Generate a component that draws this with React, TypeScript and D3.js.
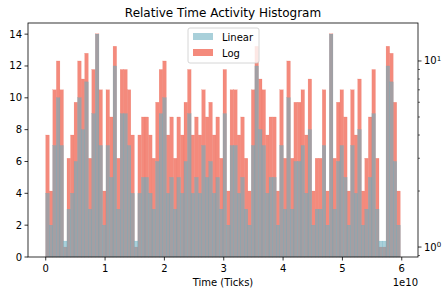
import React from 'react';
import * as d3 from 'd3';

// histogram counts per bin (100 bins)
const counts = [
  4, 2, 7, 10, 7, 1, 3, 4, 6, 10, 8, 11, 3, 9, 14, 7, 2, 7, 5, 12,
  3, 9, 9, 7, 4, 1, 4, 5, 5, 4, 3, 6, 9, 10, 4, 5, 3, 5, 4, 6,
  9, 4, 5, 4, 7, 5, 6, 4, 5, 3, 9, 2, 7, 7, 4, 5, 3, 2, 7, 12,
  8, 7, 4, 5, 5, 2, 7, 3, 10, 3, 6, 6, 7, 4, 8, 2, 3, 3, 7, 2,
  14, 3, 6, 7, 5, 2, 7, 4, 8, 2, 3, 5, 9, 3, 1, 1, 12, 11, 6, 2,
];
const timeMin = 0;
const timeMax = 5.975e10;
const xTicks = [0, 1, 2, 3, 4, 5, 6];
const yTicks = [0, 2, 4, 6, 8, 10, 12, 14];
const logMajor = [1, 10];
const logMinor = [0.9, 2, 3, 4, 5, 6, 7, 8, 9];
const seriesNames = ['Linear', 'Log'];

const W = 446;
const H = 290;
const left = 28;
const right = 418;
const top = 23;
const bottom = 257;

const FONT = 'DejaVu Sans, sans-serif';
const BLUE = '#6aaec0';
const SALMON = '#f48a7c';

export default function App() {
  const pad = (timeMax - timeMin) * 0.05;
  const x = d3.scaleLinear().domain([timeMin - pad, timeMax + pad]).range([left, right]);
  const yLin = d3.scaleLinear().domain([0, 14.7]).range([bottom, top]);
  const yLog = d3.scaleLog().domain([0.884, 16.0]).range([bottom, top]);

  const binW = (timeMax - timeMin) / counts.length;
  const bins = counts.map((c, i) => ({ x0: timeMin + i * binW, x1: timeMin + (i + 1) * binW, c }));

  return (
    <svg width={W} height={H} style={{ position: 'absolute', left: 0, top: 0, fontFamily: FONT }}>
      <rect width={W} height={H} fill="#fff" />
      <text x={(left + right) / 2} y={17} fontSize={12} textAnchor="middle">
        Relative Time Activity Histogram
      </text>

      {/* log histogram (right axis) */}
      <g>
        {bins.map((b, i) => (
          <rect
            key={'l' + i}
            x={x(b.x0)}
            y={yLog(b.c)}
            width={x(b.x1) - x(b.x0)}
            height={bottom - yLog(b.c)}
            fill={SALMON}
            stroke="#ea6a5a"
            strokeOpacity={0.6}
            strokeWidth={0.3}
          />
        ))}
      </g>

      {/* linear histogram (left axis) */}
      <g>
        {bins.map((b, i) => (
          <rect
            key={'n' + i}
            x={x(b.x0)}
            y={yLin(b.c)}
            width={x(b.x1) - x(b.x0)}
            height={bottom - yLin(b.c)}
            fill={BLUE}
            fillOpacity={0.58}
            stroke="#6aaec0"
            strokeOpacity={0.7}
            strokeWidth={0.3}
          />
        ))}
      </g>

      {/* frame */}
      <rect x={left} y={top} width={right - left} height={bottom - top} fill="none" stroke="#000" strokeWidth={0.8} />

      {/* left axis */}
      {yTicks.map((t) => (
        <g key={'y' + t} transform={`translate(0,${yLin(t)})`}>
          <line x1={left - 3.5} x2={left} stroke="#000" strokeWidth={0.8} />
          <text x={left - 6} dy="0.35em" fontSize={10} textAnchor="end">{t}</text>
        </g>
      ))}

      {/* right log axis */}
      {logMajor.map((t, i) => (
        <g key={'r' + t} transform={`translate(0,${yLog(t)})`}>
          <line x1={right} x2={right + 3.5} stroke="#000" strokeWidth={0.8} />
          <text x={right + 6} dy="0.35em" fontSize={10}>
            10<tspan fontSize={7} dy="-0.45em">{i}</tspan>
          </text>
        </g>
      ))}
      {logMinor.map((t) => (
        <line key={'m' + t} x1={right} x2={right + 2} y1={yLog(t)} y2={yLog(t)} stroke="#000" strokeWidth={0.6} />
      ))}

      {/* bottom axis */}
      {xTicks.map((t) => (
        <g key={'x' + t} transform={`translate(${x(t * 1e10)},0)`}>
          <line y1={bottom} y2={bottom + 3.5} stroke="#000" strokeWidth={0.8} />
          <text y={bottom + 15} fontSize={10} textAnchor="middle">{t}</text>
        </g>
      ))}
      <text x={right} y={286} fontSize={10} textAnchor="end">1e10</text>
      <text x={(left + right) / 2} y={286} fontSize={10} textAnchor="middle">Time (Ticks)</text>

      {/* legend */}
      <g transform="translate(188,28)">
        <rect width={71} height={35} rx={2} fill="#fff" fillOpacity={0.8} stroke="#ccc" strokeWidth={0.8} />
        <rect x={5} y={5} width={20} height={7} fill={BLUE} fillOpacity={0.58} />
        <rect x={5} y={21} width={20} height={7} fill={SALMON} />
        <text x={34} y={12.5} fontSize={10}>{seriesNames[0]}</text>
        <text x={34} y={28.5} fontSize={10}>{seriesNames[1]}</text>
      </g>
    </svg>
  );
}
